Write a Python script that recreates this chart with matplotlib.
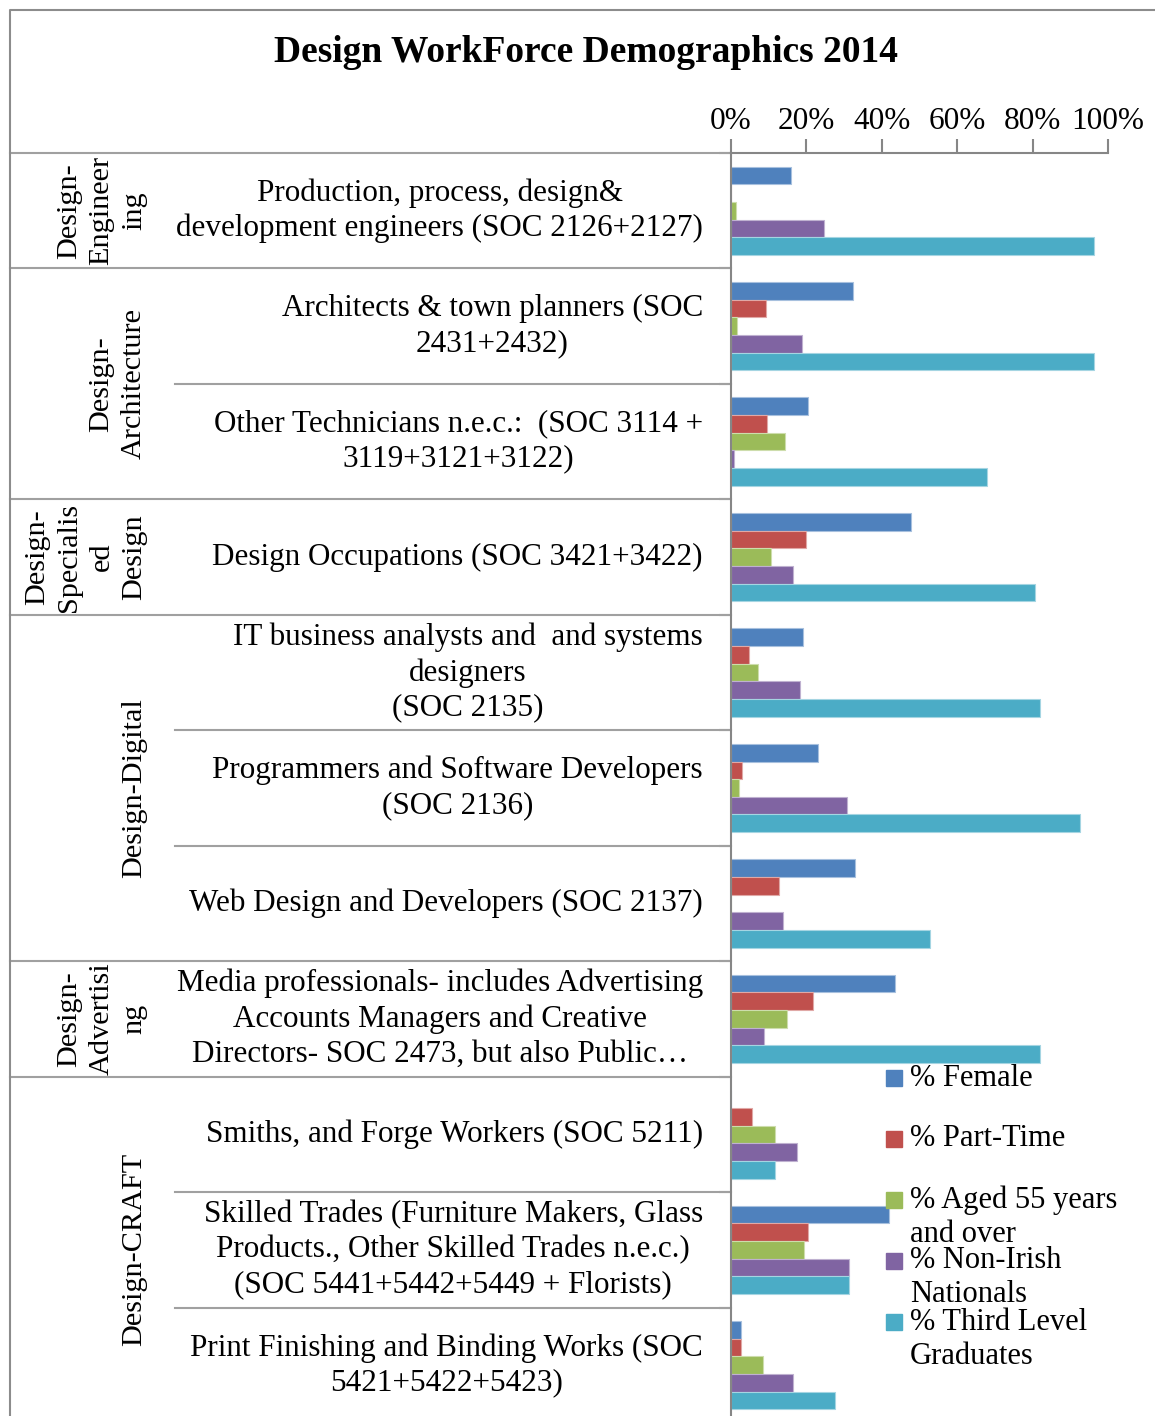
import matplotlib.pyplot as plt
from matplotlib.transforms import blended_transform_factory
from matplotlib.patches import Rectangle
from matplotlib.lines import Line2D
import numpy as np

plt.rcParams['font.family'] = ['Liberation Serif', 'DejaVu Serif']

# data (percent)
groups = ["Design-\nEngineer\ning", "Design-\nArchitecture", "Design-\nSpecialis\ned\nDesign",
          "Design-Digital", "Design-\nAdvertisi\nng", "Design-CRAFT"]
group_sizes = [1, 2, 1, 3, 1, 3]
occupations = [
    "Production, process, design&\ndevelopment engineers (SOC 2126+2127)",
    "Architects & town planners (SOC\n2431+2432)",
    "Other Technicians n.e.c.:  (SOC 3114 +\n3119+3121+3122)",
    "Design Occupations (SOC 3421+3422)",
    "IT business analysts and  and systems\ndesigners\n(SOC 2135)",
    "Programmers and Software Developers\n(SOC 2136)",
    "Web Design and Developers (SOC 2137)",
    "Media professionals- includes Advertising\nAccounts Managers and Creative\nDirectors- SOC 2473, but also Public\u2026",
    "Smiths, and Forge Workers (SOC 5211)",
    "Skilled Trades (Furniture Makers, Glass\nProducts., Other Skilled Trades n.e.c.)\n(SOC 5441+5442+5449 + Florists)",
    "Print Finishing and Binding Works (SOC\n5421+5422+5423)",
]
series = ["% Female", "% Part-Time", "% Aged 55 years\nand over", "% Non-Irish\nNationals",
          "% Third Level\nGraduates"]
female = [15.9, 32.4, 20.4, 47.8, 19.2, 23.0, 32.8, 43.5, 0.0, 42.0, 2.7]
part_time = [0.0, 9.4, 9.6, 20.0, 4.8, 2.9, 12.6, 21.8, 5.6, 20.4, 2.6]
aged_55 = [1.3, 1.6, 14.2, 10.6, 7.2, 2.2, 0.0, 14.9, 11.6, 19.4, 8.4]
non_irish = [24.6, 18.9, 0.8, 16.5, 18.2, 30.7, 13.9, 8.7, 17.4, 31.2, 16.4]
third_level = [96.2, 96.2, 68.0, 80.7, 82.0, 92.7, 52.8, 82.0, 11.8, 31.3, 27.6]
colors = ["#4F81BD", "#C0504D", "#9BBB59", "#8064A2", "#4BACC6"]
edges = ["#A7C0DE", "#E0A8A6", "#CDDDAC", "#BFB1D0", "#A5D5E2"]

W, H = 1155, 1416
fig = plt.figure(figsize=(W / 100, H / 100), dpi=100)

def fx(px):
    return px / W

def fy(py):
    return 1 - py / H

ax = fig.add_axes([fx(731), fy(1423), fx(1108) - fx(731), fy(153) - fy(1423)])
n = len(occupations)
y = np.arange(n)
bh = 0.153
values = [female, part_time, aged_55, non_irish, third_level]
for j, vals in enumerate(values):
    ax.barh(y + (j - 2) * bh, np.array(vals) / 100, height=bh, color=colors[j],
            edgecolor=edges[j], linewidth=0.8)

ax.set_xlim(0, 1)
ax.set_ylim(n - 0.5, -0.5)
ax.xaxis.tick_top()
ticks = np.arange(0, 1.01, 0.2)
ax.set_xticks(ticks)
ax.set_xticklabels([f"{int(round(t * 100))}%" for t in ticks], fontsize=22.5)
ax.tick_params(axis='x', direction='out', length=10, width=1.5, color='#868686', pad=2.5)
for s in ['right', 'bottom']:
    ax.spines[s].set_visible(False)
for s in ['top', 'left']:
    ax.spines[s].set_color('#868686')
    ax.spines[s].set_linewidth(1.5)

bounds = np.arange(n + 1) - 0.5
ax.set_yticks(bounds)
ax.set_yticklabels([])
ax.tick_params(axis='y', direction='out', length=9, width=1.5, color='#868686')

tr = blended_transform_factory(fig.transFigure, ax.transData)

# category labels
for i, lab in enumerate(occupations):
    ax.text(fx(703), i, lab, transform=tr, ha='right', va='center', multialignment='center',
            fontsize=22.4, linespacing=1.27)

# group labels and separators
start = 0
group_edges = [-0.5]
for g, size in zip(groups, group_sizes):
    mid = start + (size - 1) / 2
    ax.text(fx(147), mid, g, transform=tr, rotation=90, ha='right', va='center',
            multialignment='center', fontsize=21.8, linespacing=1.32)
    for k in range(1, size):
        yb = start + k - 0.5
        ax.add_line(Line2D([fx(175), fx(731)], [yb, yb], transform=tr, color='#A0A0A0',
                           lw=1.5, clip_on=False))
    start += size
    group_edges.append(start - 0.5)
for yb in group_edges[:-1]:
    ax.add_line(Line2D([fx(10), fx(731)], [yb, yb], transform=tr, color='#A0A0A0',
                       lw=1.5, clip_on=False))

# chart frame
fig.add_artist(Line2D([fx(10), fx(10), fx(1160)], [fy(1420), fy(10), fy(10)],
                      color='#8C8C8C', lw=1.5))

fig.text(fx(586), fy(52), "Design WorkForce Demographics 2014", ha='center', va='center',
         fontsize=27, fontweight='bold')

# legend
leg_y = [1078, 1139, 1200, 1261, 1322]
for j, name in enumerate(series):
    fig.add_artist(Rectangle((fx(886), fy(leg_y[j] + 8)), fx(16), 16 / H, color=colors[j],
                             transform=fig.transFigure))
    for k, line in enumerate(name.split("\n")):
        fig.text(fx(910), fy(leg_y[j] + 34 * k), line, ha='left', va='center', fontsize=22)

fig.savefig("out.png", dpi=100)
